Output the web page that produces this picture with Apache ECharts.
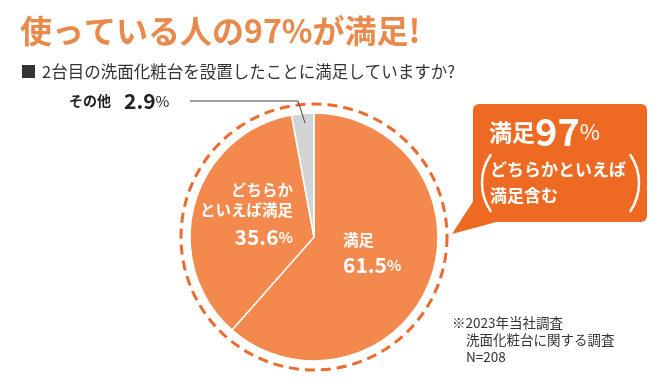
<!DOCTYPE html>
<html><head><meta charset="utf-8">
<script src="https://cdn.jsdelivr.net/npm/echarts@6/dist/echarts.min.js"></script>
<style>html,body{margin:0;padding:0;background:#fff}#c{width:662px;height:390px}</style>
</head><body><div id="c"></div>
<script>
const titleText = '使っている人の97%が満足!';
const questionText = '2台目の洗面化粧台を設置したことに満足していますか?';
const categories = ['満足', 'どちらかといえば満足', 'その他'];
const values = [61.5, 35.6, 2.9];
const sliceColors = ['#F4894E', '#F4894E', '#D3D4D6'];
const calloutValue = 97;
const footnotes = ['※2023年当社調査', '洗面化粧台に関する調査', 'N=208'];

const FONT = '"Noto Sans CJK JP", "Noto Sans", sans-serif';
const chart = echarts.init(document.getElementById('c'), null, {renderer: 'canvas'});
const cx = 314, cy = 237, R = 124;

function txt(x, y, text, size, color, weight, align) {
  return {type: 'text', x: x, y: y, silent: true, z: 20, style: {
    text: text, fontSize: size, fill: color, fontWeight: weight || 'normal',
    fontFamily: FONT, align: align || 'left', verticalAlign: 'middle'
  }};
}
const pctRich = (n, p) => ({
  n: {fontSize: n, fontWeight: 'bold', fill: '#fff', fontFamily: FONT},
  p: {fontSize: p, fontWeight: 'bold', fill: '#fff', fontFamily: FONT}
});

const graphics = [
  txt(20, 31, titleText, 32, '#E9894B', 'bold'),
  {type: 'rect', silent: true, shape: {x: 22, y: 65, width: 13, height: 13}, style: {fill: '#333'}},
  txt(42, 72, questionText, 16.5, '#333', 'normal'),
  // dashed ring
  {type: 'circle', silent: true, shape: {cx: cx, cy: cy, r: 133},
   style: {fill: null, stroke: '#EC6B2D', lineWidth: 3, lineDash: [10, 6]}, z: 1},
  // その他 label + leader
  txt(69, 101, 'その他', 14, '#222', 'bold'),
  {type: 'text', x: 124, y: 101, silent: true, z: 20, style: {
    text: '{n|' + values[2] + '}{p|%}', verticalAlign: 'middle', fontFamily: FONT,
    rich: {n: {fontSize: 21, fontWeight: 'bold', fill: '#222', fontFamily: FONT},
           p: {fontSize: 15, fill: '#222', fontFamily: FONT}}}},
  {type: 'polyline', silent: true, shape: {points: [[190, 101], [298, 101], [305, 123]]},
   style: {stroke: '#444', lineWidth: 1, fill: null}, z: 20},
  // inside labels
  txt(293, 190, 'どちらか', 15.5, '#fff', 'bold', 'right'),
  txt(293, 210, 'といえば' + categories[0], 15.5, '#fff', 'bold', 'right'),
  {type: 'text', x: 293, y: 237, silent: true, z: 20, style: {
    text: '{n|' + values[1].toFixed(1) + '}{p|%}', align: 'right', verticalAlign: 'middle',
    rich: pctRich(21, 15)}},
  txt(343, 240, categories[0], 15.5, '#fff', 'bold', 'left'),
  {type: 'text', x: 343, y: 265, silent: true, z: 20, style: {
    text: '{n|' + values[0].toFixed(1) + '}{p|%}', align: 'left', verticalAlign: 'middle',
    rich: pctRich(21, 15)}},
  // callout
  {type: 'rect', silent: true, shape: {x: 473, y: 104, width: 174, height: 118, r: 6},
   style: {fill: '#EE6A23'}, z: 5},
  {type: 'polygon', silent: true, shape: {points: [[474, 200], [452, 234], [500, 221]]},
   style: {fill: '#EE6A23'}, z: 5},
  {type: 'text', x: 489, y: 132, silent: true, z: 20, style: {
    text: '{a|' + categories[0] + '}{b|' + calloutValue + '}{c|%}', verticalAlign: 'middle',
    rich: {a: {fontSize: 23, fontWeight: 'bold', fill: '#fff', fontFamily: FONT},
           b: {fontSize: 38, fontWeight: 'bold', fill: '#fff', fontFamily: FONT},
           c: {fontSize: 22, fill: '#fff', fontFamily: FONT}}}},
  {type: 'arc', silent: true, z: 20, shape: {cx: 532, cy: 183, r: 50, startAngle: Math.PI * (180 - 34) / 180, endAngle: Math.PI * (180 + 34) / 180},
   style: {stroke: '#fff', lineWidth: 2.5, fill: null, lineCap: 'round'}},
  {type: 'arc', silent: true, z: 20, shape: {cx: 589, cy: 183, r: 50, startAngle: -Math.PI * 34 / 180, endAngle: Math.PI * 34 / 180},
   style: {stroke: '#fff', lineWidth: 2.5, fill: null, lineCap: 'round'}},
  txt(490, 170, 'どちらかといえば', 17, '#fff', 'bold'),
  txt(490, 196, categories[0] + '含む', 17, '#fff', 'bold'),
  // footnote
  txt(452, 323, footnotes[0], 13.5, '#333', 'normal'),
  txt(466, 340, footnotes[1], 13.5, '#333', 'normal'),
  txt(466, 357, footnotes[2], 13.5, '#333', 'normal')
];

chart.setOption({
  animation: false,
  graphic: graphics,
  series: [{
    type: 'pie', center: [cx, cy], radius: R, startAngle: 90, clockwise: true,
    label: {show: false}, labelLine: {show: false}, silent: true, z: 2,
    itemStyle: {borderColor: '#fff', borderWidth: 1.5},
    data: categories.map((c, i) => ({name: c, value: values[i], itemStyle: {color: sliceColors[i]}}))
  }]
});
</script></body></html>
